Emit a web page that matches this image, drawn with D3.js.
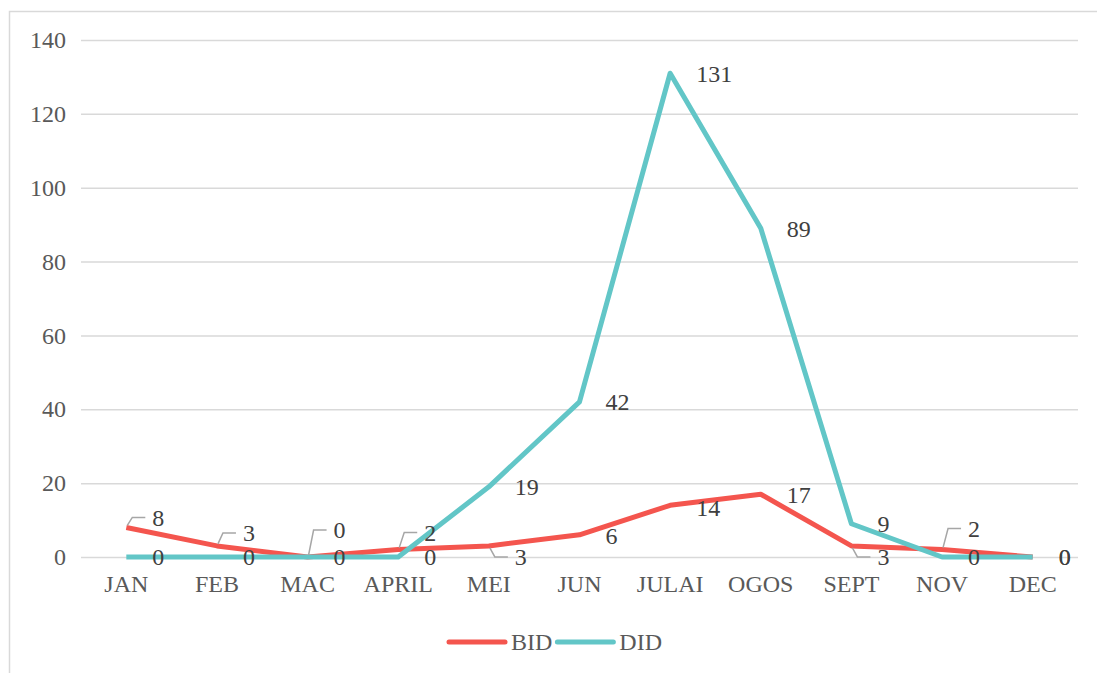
<!DOCTYPE html>
<html>
<head>
<meta charset="utf-8">
<script src="https://cdn.jsdelivr.net/npm/d3@7"></script>
<style>
  body { margin: 0; background: #fff; }
  svg { display: block; }
</style>
</head>
<body>
<div id="chart"></div>
<script>
// categories (months, Malay)
var months = ["JAN", "FEB", "MAC", "APRIL", "MEI", "JUN", "JULAI", "OGOS", "SEPT", "NOV", "DEC"];

// series values
var bidValues = [8, 3, 0, 2, 3, 6, 14, 17, 3, 2, 0];
var didValues = [0, 0, 0, 0, 19, 42, 131, 89, 9, 0, 0];

var yTicks = [0, 20, 40, 60, 80, 100, 120, 140];

// label nudges (pixels, vertical) - non zero ones get a leader line
var bidLabelShift = [-10, -13, -27, -17, 11, 1, 2, 0, 11, -21, 0];
var didLabelShift = [0, 0, 0, 0, 0, 0, 0, 0, 0, 0, 0];

var width = 1097, height = 673;
var plot = {left: 81, right: 1078, top: 40, bottom: 557};
var fontStyle = "font-family:'Liberation Serif';font-size:24px";

var svg = d3.select("#chart").append("svg")
    .attr("width", width)
    .attr("height", height);

// outer frame (only top and left show)
svg.append("path")
  .attr("d", "M9.5," + (height + 2) + " L9.5,11.5 L" + (width + 2) + ",11.5")
  .attr("fill", "none")
  .attr("stroke", "#d9d9d9")
  .attr("stroke-width", 1.5);

var x = d3.scaleBand()
    .domain(months)
    .range([plot.left, plot.right]);

var y = d3.scaleLinear()
    .domain([0, 140])
    .range([plot.bottom, plot.top]);

// gridlines + y labels
var yAxis = svg.append("g")
    .attr("transform", "translate(" + plot.left + ",0)")
    .call(d3.axisLeft(y).tickValues(yTicks).tickSize(-(plot.right - plot.left)).tickPadding(15));
yAxis.select(".domain").remove();
yAxis.selectAll(".tick line").attr("stroke", "#d9d9d9").attr("stroke-width", 1.5);
yAxis.selectAll(".tick text").attr("fill", "#595959").attr("style", fontStyle);

// x labels
var xAxis = svg.append("g")
    .attr("transform", "translate(0," + plot.bottom + ")")
    .call(d3.axisBottom(x).tickSize(0).tickPadding(18));
xAxis.select(".domain").remove();
xAxis.selectAll(".tick text").attr("fill", "#595959").attr("style", fontStyle);

var cx = function(d, i) { return x(months[i]) + x.bandwidth() / 2; };

var series = [
  {name: "BID", values: bidValues, shift: bidLabelShift, color: "#f4554e"},
  {name: "DID", values: didValues, shift: didLabelShift, color: "#62c6c7"}
];

var line = d3.line()
    .x(function(d, i) { return cx(d, i); })
    .y(function(d) { return y(d); });

// draw lines: BID first then DID on top
series.forEach(function(s) {
  svg.append("path")
    .datum(s.values)
    .attr("d", line)
    .attr("fill", "none")
    .attr("stroke", s.color)
    .attr("stroke-width", 5)
    .attr("stroke-linejoin", "round");
});

// data labels
series.forEach(function(s) {
  var g = svg.append("g");
  s.values.forEach(function(v, i) {
    var px = cx(v, i), py = y(v);
    var ly = py + s.shift[i];
    if (Math.abs(s.shift[i]) > 5) {
      var dir = s.shift[i] < 0 ? -1 : 1;
      g.append("path")
        .attr("d", "M" + (px + 1) + "," + (py + dir * 2) +
                   " L" + (px + 6) + "," + ly +
                   " L" + (px + 19) + "," + ly)
        .attr("fill", "none")
        .attr("stroke", "#a6a6a6")
        .attr("stroke-width", 1.5);
    }
    g.append("text")
      .attr("x", px + 26)
      .attr("y", ly)
      .attr("dy", "0.35em")
      .attr("fill", "#404040")
      .attr("style", fontStyle)
      .text(v);
  });
});

// legend
var legend = svg.append("g").attr("transform", "translate(0,642)");
var lx = 449;
series.forEach(function(s) {
  legend.append("line")
    .attr("x1", lx).attr("x2", lx + 56)
    .attr("y1", 0).attr("y2", 0)
    .attr("stroke", s.color)
    .attr("stroke-width", 5)
    .attr("stroke-linecap", "round");
  var t = legend.append("text")
    .attr("x", lx + 62)
    .attr("y", 0)
    .attr("dy", "0.35em")
    .attr("fill", "#595959")
    .attr("style", fontStyle)
    .text(s.name);
  lx += 62 + t.node().getComputedTextLength() + 5;
});
</script>
</body>
</html>
